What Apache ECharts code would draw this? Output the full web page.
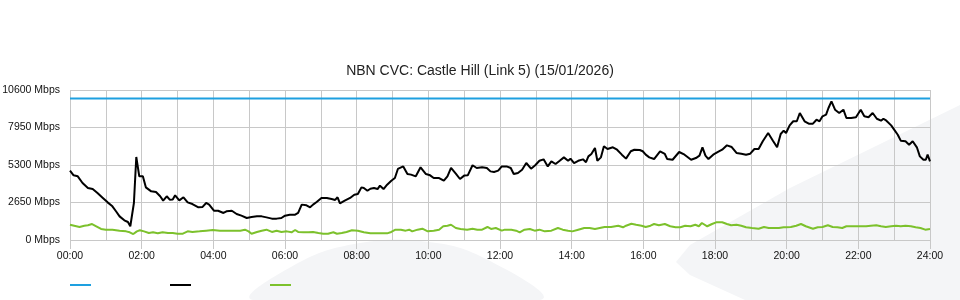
<!DOCTYPE html>
<html><head><meta charset="utf-8">
<script src="https://cdn.jsdelivr.net/npm/echarts@6/dist/echarts.min.js"></script>
<style>html,body{margin:0;padding:0;background:#fff}#c{width:960px;height:300px}</style>
</head><body><div id="c"></div>
<script>
var titleText = 'NBN CVC: Castle Hill (Link 5) (15/01/2026)';
var yTicks = [0, 2650, 5300, 7950, 10600];
var capacityTimes = [0, 1440];
var capacityValues = [10000, 10000];
var inboundTimes = [0,6,13,21,30,38,46,55,63,71,77,83,91,97,101,107,111,116,122,127,136,144,151,156,162,167,172,176,183,190,197,205,215,222,228,233,241,248,257,262,271,279,287,296,304,313,321,329,338,346,354,360,368,377,382,388,396,402,407,413,421,430,438,444,448,452,460,469,476,482,488,492,498,503,509,515,519,525,531,538,544,549,558,565,571,579,587,596,603,609,618,626,632,638,646,653,660,666,674,681,690,698,704,710,717,723,731,738,743,750,757,764,772,779,786,793,800,806,813,820,827,834,838,844,851,859,864,868,873,879,883,889,894,900,909,916,924,931,939,945,954,959,964,970,978,988,996,1000,1009,1020,1029,1040,1048,1054,1059,1064,1069,1077,1085,1092,1100,1108,1116,1124,1132,1139,1146,1153,1160,1169,1177,1184,1190,1195,1199,1205,1211,1217,1222,1230,1237,1244,1250,1255,1260,1266,1270,1275,1281,1288,1295,1300,1308,1316,1324,1330,1337,1344,1351,1358,1362,1367,1375,1380,1386,1391,1399,1405,1411,1418,1423,1429,1433,1436,1440];
var inboundValues = [4900,4570,4500,4030,3675,3600,3320,2970,2660,2380,2030,1670,1390,1270,970,2615,5865,4500,4500,3720,3440,3390,3090,2780,3090,2850,2870,3160,2800,3020,2660,2540,2310,2340,2615,2500,2070,2070,1910,2030,2070,1840,1720,1555,1625,1670,1670,1600,1510,1510,1555,1720,1790,1790,1910,2500,2450,2310,2500,2685,2970,2970,2900,2830,3020,2590,2780,2970,3200,3250,3720,3675,3480,3625,3675,3600,3840,3600,3910,4190,4380,5020,5200,4660,4620,4500,5140,4660,4570,4380,4380,4190,4500,5090,4690,4310,4550,4570,5280,5090,5140,5090,4850,4810,4900,5200,5200,5090,4660,4740,4970,5440,5040,5280,5600,5700,5200,5560,5370,5600,5840,5600,5750,5440,5600,5700,5500,5910,6080,6500,5600,5840,6620,6430,6550,6380,6030,5750,6270,6380,6360,6270,6030,5840,5720,6270,6080,5720,5670,6220,6030,5670,5790,5960,6550,5960,5720,6030,6220,6380,6690,6570,6150,6100,6030,6100,6430,6430,6975,7560,7020,6550,7490,7725,7560,8100,8390,8390,8975,8390,8220,8220,8500,8390,8740,8860,9330,9800,9210,8975,9210,8620,8620,8670,9210,8740,8670,8975,8570,8430,8570,8430,8100,7800,7440,7020,6975,6735,6975,6550,5910,5670,5670,6030,5560];
var outboundTimes = [0,7,16,24,30,37,44,52,60,71,83,94,100,106,112,117,124,132,139,147,155,164,172,180,189,197,205,217,228,239,251,268,285,293,299,304,313,321,329,338,346,354,363,371,377,382,391,399,407,416,424,432,441,447,455,463,472,482,492,503,517,531,538,545,554,562,568,573,582,590,599,609,618,625,632,638,646,654,665,674,682,690,699,705,713,723,728,739,747,753,761,770,778,786,795,806,817,825,834,841,851,861,870,879,887,895,906,918,926,931,940,948,957,964,972,978,986,996,1005,1014,1022,1030,1039,1047,1053,1058,1067,1075,1082,1092,1100,1107,1116,1124,1132,1142,1153,1162,1170,1178,1187,1195,1199,1207,1216,1224,1232,1244,1252,1260,1269,1277,1285,1293,1300,1311,1322,1333,1341,1350,1358,1366,1375,1383,1391,1399,1408,1416,1424,1432,1440];
var outboundValues = [1080,1010,920,1010,1040,1130,970,780,730,730,660,610,545,420,610,685,610,495,545,470,545,495,495,445,445,610,570,610,660,705,660,660,660,730,610,445,570,660,730,570,660,570,610,545,705,570,545,545,570,495,445,445,545,445,495,570,685,660,545,470,470,470,570,730,730,660,730,610,730,800,610,660,730,970,1010,1080,850,780,730,800,730,730,920,780,850,660,730,730,660,545,730,780,660,730,610,660,850,730,660,610,730,850,850,780,850,920,920,1010,900,1010,1150,1080,1010,920,1010,1130,1040,1130,970,900,900,1010,970,1080,970,1200,970,1130,1250,1250,1130,1040,1080,1010,900,850,800,920,850,850,850,900,900,920,1010,1130,970,800,900,920,1040,920,900,850,970,970,970,970,1010,1040,970,920,970,1010,970,1010,970,900,850,730,780];

function zip(t, v) { return t.map(function (x, i) { return [x, v[i]]; }); }
function hh(v) { var h = Math.round(v / 60); return (h < 10 ? '0' : '') + h + ':00'; }

var chart = echarts.init(document.getElementById('c'), null, {renderer: 'canvas'});
var gridColor = '#c8c8c8';
chart.setOption({
  animation: false,
  backgroundColor: '#ffffff',
  textStyle: {fontFamily: 'Liberation Sans, Arial, sans-serif'},
  title: {
    text: titleText, left: 'center', top: 59,
    textStyle: {fontSize: 14, fontWeight: 'normal', color: '#222', fontFamily: 'Liberation Sans, Arial, sans-serif'}
  },
  graphic: [
    {type: 'polygon', z: -10, silent: true,
     shape: {points: [[253, 300], [300, 262], [360, 243], [420, 241], [480, 256], [540, 300]], smooth: 0.4},
     style: {fill: '#f4f5f7'}},
    {type: 'polygon', z: -10, silent: true,
     shape: {points: [[745, 300], [690, 275], [676, 262], [690, 245], [790, 188], [960, 105], [960, 300]]},
     style: {fill: '#f4f5f7'}}
  ],
  legend: {
    left: 70, top: 284, padding: 0, icon: 'rect', itemWidth: 21, itemHeight: 2, itemGap: 79,
    formatter: function () { return ''; },
    selectedMode: false,
    data: ['Capacity', 'Inbound', 'Outbound']
  },
  grid: {left: 70, right: 30, top: 90, bottom: 60, containLabel: false, outerBoundsMode: 'none'},
  xAxis: {
    type: 'value', min: 0, max: 1440, interval: 120,
    axisLine: {show: false},
    axisTick: {show: true, length: 9, lineStyle: {color: gridColor}},
    minorTick: {show: false, splitNumber: 2},
    splitLine: {show: true, lineStyle: {color: gridColor, width: 1}},
    minorSplitLine: {show: true, lineStyle: {color: gridColor, width: 1}},
    axisLabel: {formatter: hh, fontSize: 10.5, color: '#111', margin: 11}
  },
  yAxis: {
    type: 'value', min: yTicks[0], max: yTicks[yTicks.length - 1], interval: yTicks[1] - yTicks[0],
    axisLine: {show: false}, axisTick: {show: false},
    splitLine: {show: true, lineStyle: {color: gridColor, width: 1}},
    axisLabel: {formatter: function (v) { return v + ' Mbps'; }, fontSize: 10.5, color: '#111', margin: 10}
  },
  series: [
    {name: 'Capacity', type: 'line', data: zip(capacityTimes, capacityValues), showSymbol: false,
     lineStyle: {width: 2, color: '#1ea0e0'}, itemStyle: {color: '#1ea0e0'}},
    {name: 'Inbound', type: 'line', data: zip(inboundTimes, inboundValues), showSymbol: false,
     lineStyle: {width: 2, color: '#000000'}, itemStyle: {color: '#000000'}},
    {name: 'Outbound', type: 'line', data: zip(outboundTimes, outboundValues), showSymbol: false,
     lineStyle: {width: 2, color: '#7cc12c'}, itemStyle: {color: '#7cc12c'}}
  ]
});
</script></body></html>
